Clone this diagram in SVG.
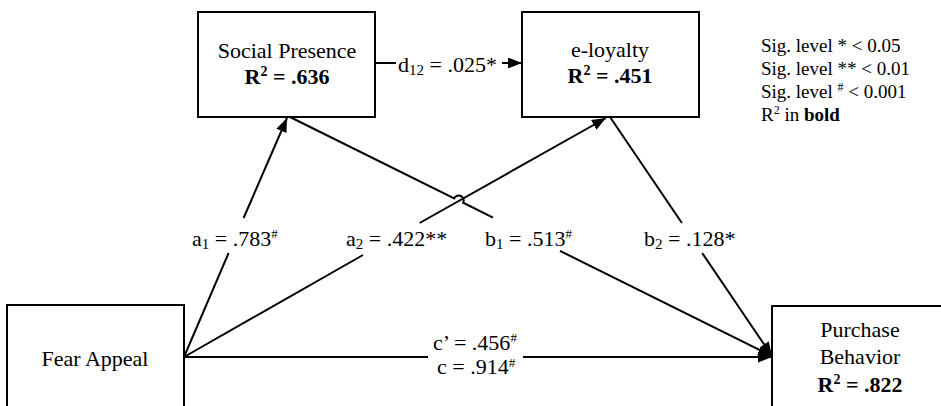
<svg xmlns="http://www.w3.org/2000/svg" width="941" height="406" viewBox="0 0 941 406" font-family="'Liberation Serif', 'Times New Roman', serif">
<defs>
<marker id="arr" markerUnits="userSpaceOnUse" markerWidth="15" markerHeight="12" refX="14" refY="5.5" orient="auto">
<path d="M0,0 L14,5.5 L0,11 z" fill="#000"/>
</marker>
<style>
.box{fill:#fff;stroke:#000;stroke-width:2}
.ln{fill:none;stroke:#000;stroke-width:2}
text{font-family:"Liberation Serif","Times New Roman",serif;font-size:22px;fill:#000}
.c{text-anchor:middle}
.b{font-weight:bold}
.lg{font-size:19px}
</style>
</defs>
<rect width="941" height="406" fill="#fff"/>
<g id="connectors">
<path class="ln" d="M184,357 L228.6,253"/>
<path class="ln" d="M243.6,218 L287,118" marker-end="url(#arr)"/>
<path class="ln" d="M184,357 L363,255"/>
<path class="ln" d="M419.6,223 L606,118" marker-end="url(#arr)"/>
<path class="ln" d="M290,117 L454.2,198.3 A5,5 0 0 1 463.2,202.7 L493,217.7"/>
<path class="ln" d="M560,250.9 L772,356" marker-end="url(#arr)"/>
<path class="ln" d="M610,117 L681.9,223"/>
<path class="ln" d="M702.2,253 L772,356" marker-end="url(#arr)"/>
<path class="ln" d="M184,357 L428,357"/>
<path class="ln" d="M523,357 L772,357" marker-end="url(#arr)"/>
<path class="ln" d="M375,63 L396,63"/>
<path class="ln" d="M502,63 L522,63" marker-end="url(#arr)"/>
<text x="398" y="72">d<tspan font-size="15" dy="3">12</tspan><tspan dy="-3"> = .025*</tspan></text>
<text x="192" y="246">a<tspan font-size="15" dy="3">1</tspan><tspan dy="-3"> = .783</tspan><tspan font-size="13" dy="-8">#</tspan></text>
<text x="346" y="246">a<tspan font-size="15" dy="3">2</tspan><tspan dy="-3"> = .422**</tspan></text>
<text x="485" y="246">b<tspan font-size="15" dy="3">1</tspan><tspan dy="-3"> = .513</tspan><tspan font-size="13" dy="-8">#</tspan></text>
<text x="644" y="246">b<tspan font-size="15" dy="3">2</tspan><tspan dy="-3"> = .128*</tspan></text>
<text x="433" y="350">c’ = .456<tspan font-size="13" dy="-8">#</tspan></text>
<text x="437" y="374">c = .914<tspan font-size="13" dy="-7">#</tspan></text>
</g>
<g id="social-presence">
<rect class="box" x="198" y="12" width="177" height="105"/>
<text class="c" x="287" y="58">Social Presence</text>
<text class="c b" x="287" y="84">R<tspan font-size="14" dy="-8">2</tspan><tspan dy="8"> = .636</tspan></text>
</g>
<g id="e-loyalty">
<rect class="box" x="522" y="12" width="177" height="105"/>
<text class="c" x="610" y="57">e-loyalty</text>
<text class="c b" x="610" y="83">R<tspan font-size="14" dy="-8">2</tspan><tspan dy="8"> = .451</tspan></text>
</g>
<g id="fear-appeal">
<rect class="box" x="7" y="305" width="177" height="120"/>
<text class="c" x="95" y="366">Fear Appeal</text>
</g>
<g id="purchase-behavior">
<rect class="box" x="772" y="306" width="180" height="120"/>
<text class="c" x="860" y="337">Purchase</text>
<text class="c" x="860" y="364">Behavior</text>
<text class="c b" x="860" y="392">R<tspan font-size="14" dy="-8">2</tspan><tspan dy="8"> = .822</tspan></text>
</g>
<g id="legend">
<text class="lg" x="761" y="52">Sig. level * &lt; 0.05</text>
<text class="lg" x="761" y="75">Sig. level ** &lt; 0.01</text>
<text class="lg" x="761" y="98">Sig. level <tspan font-size="12" dy="-7">#</tspan><tspan dy="7"> &lt; 0.001</tspan></text>
<text class="lg" x="761" y="121">R<tspan font-size="12" dy="-7">2</tspan><tspan dy="7"> in </tspan><tspan class="b">bold</tspan></text>
</g>
</svg>
